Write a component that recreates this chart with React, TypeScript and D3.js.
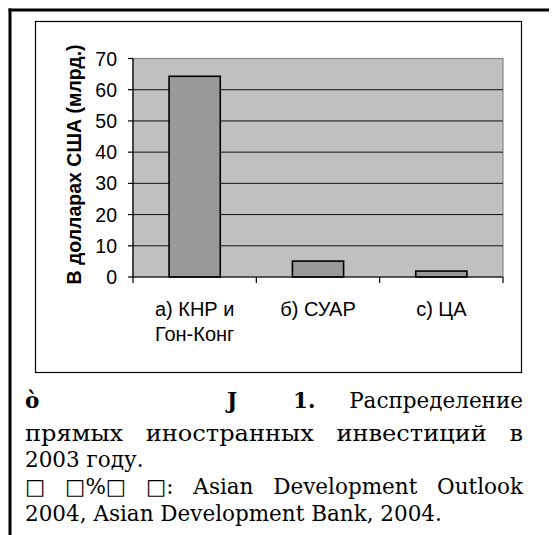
import React from 'react'
import * as d3 from 'd3'

// chart data
const categories = ['а) КНР и|Гон-Конг', 'б) СУАР', 'с) ЦА']
const values = [64.3, 5.1, 1.9]
const yTicks = [0, 10, 20, 30, 40, 50, 60, 70]
const yTitle = 'В долларах США (млрд.)'

// caption text under the chart
const captionHead = ['ò', 'J', '1.']
const captionHeadX = [25, 227, 293]
const captionTitle = 'Распределение'
const captionLine2 = 'прямых иностранных инвестиций в'
const captionLine3 = '2003 году.'
const captionLine4 = '□ □%□ □: Asian Development Outlook'
const captionLine5 = '2004, Asian Development Bank, 2004.'

const W = 553
const H = 535
const plot = { left: 133, right: 503, top: 58.5, bottom: 277 }
const serif = "'DejaVu Serif', serif"
const sans = "'Liberation Sans', Arial, sans-serif"
const capSize = 21.5
const textLeft = 25
const textRight = 523

const ctx = document.createElement('canvas').getContext('2d')
function measure(s: string, font: string) {
  if (!ctx) return s.length * 10
  ctx.font = font
  return ctx.measureText(s).width
}

// place words so the line fills textLeft..textRight
// stretch: the original face is wider than DejaVu for cyrillic lowercase
function justify(line: string, stretch = 1) {
  const words = line.split(' ')
  const font = `${capSize}px 'DejaVu Serif'`
  const widths = words.map(w => measure(w, font) * stretch)
  const gap = (textRight - textLeft - d3.sum(widths)) / (words.length - 1)
  let x = textLeft
  return words.map((w, i) => {
    const pos = x
    x += widths[i] + gap
    return { w, x: pos, len: widths[i] }
  })
}

export default function App() {
  const x = d3.scaleBand<string>()
    .domain(categories)
    .range([plot.left, plot.right])
    .paddingInner(0.585)
    .paddingOuter(0.2925)

  const y = d3.scaleLinear().domain([0, 70]).range([plot.bottom, plot.top])

  const step = x.step()
  const boundaries = d3.range(categories.length + 1).map(i => plot.left + i * step)

  const line2 = justify(captionLine2, 1.12)
  const line4 = justify(captionLine4)

  return (
    <svg width={W} height={H} style={{ position: 'absolute', left: 0, top: 0, background: '#fff' }}>
      {/* outer page frame */}
      <line x1={10} y1={8.5} x2={10} y2={H} stroke="#000" strokeWidth={3} />
      <line x1={8.5} y1={10} x2={549} y2={10} stroke="#000" strokeWidth={3} />

      {/* chart box */}
      <rect x={35.5} y={21.5} width={486} height={351} fill="#fff" stroke="#000" strokeWidth={1.2} />

      {/* plot area */}
      <rect x={plot.left} y={plot.top} width={plot.right - plot.left} height={plot.bottom - plot.top}
        fill="#c0c0c0" stroke="#888" strokeWidth={1.2} />

      {yTicks.filter(t => t > 0 && t < 70).map(t => (
        <line key={t} x1={plot.left} x2={plot.right} y1={y(t)} y2={y(t)} stroke="#111" strokeWidth={1} />
      ))}

      {values.map((v, i) => (
        <rect key={i} x={x(categories[i])} y={y(v)} width={x.bandwidth()} height={y(0) - y(v)}
          fill="#999999" stroke="#000" strokeWidth={1.6} />
      ))}

      {/* y axis */}
      <line x1={plot.left} x2={plot.left} y1={plot.top} y2={plot.bottom} stroke="#000" strokeWidth={1.2} />
      {yTicks.map(t => (
        <g key={t}>
          <line x1={plot.left - 5} x2={plot.left} y1={y(t)} y2={y(t)} stroke="#000" strokeWidth={1.2} />
          <text x={117} y={y(t)} textAnchor="end" dominantBaseline="central"
            fontFamily={sans} fontSize={19.5} fill="#000">{t}</text>
        </g>
      ))}

      {/* x axis */}
      <line x1={plot.left} x2={plot.right} y1={plot.bottom} y2={plot.bottom} stroke="#000" strokeWidth={1.2} />
      {boundaries.map((b, i) => (
        <line key={i} x1={b} x2={b} y1={plot.bottom} y2={plot.bottom + 6} stroke="#000" strokeWidth={1.2} />
      ))}
      {categories.map(c => (
        <text key={c} textAnchor="middle" fontFamily={sans} fontSize={20} fill="#000">
          {c.split('|').map((part, j) => (
            <tspan key={j} x={(x(c) ?? 0) + x.bandwidth() / 2} y={316 + j * 25}>{part}</tspan>
          ))}
        </text>
      ))}

      <text transform={`translate(74,164.5) rotate(-90)`} textAnchor="middle" dominantBaseline="central"
        fontFamily={sans} fontSize={19.5} fontWeight="bold" fill="#000">{yTitle}</text>

      {/* caption */}
      <g fontFamily={serif} fontSize={capSize} fill="#000">
        {captionHead.map((w, i) => (
          <text key={w} x={captionHeadX[i]} y={408} fontWeight="bold">{w}</text>
        ))}
        <text x={textRight} y={408} textAnchor="end">{captionTitle}</text>
        {line2.map((d, i) => (
          <text key={i} x={d.x} y={441} textLength={d.len} lengthAdjust="spacingAndGlyphs">{d.w}</text>
        ))}
        <text x={textLeft} y={467}>{captionLine3}</text>
        {line4.map((d, i) => <text key={i} x={d.x} y={494}>{d.w}</text>)}
        <text x={textLeft} y={521}>{captionLine5}</text>
      </g>
    </svg>
  )
}
